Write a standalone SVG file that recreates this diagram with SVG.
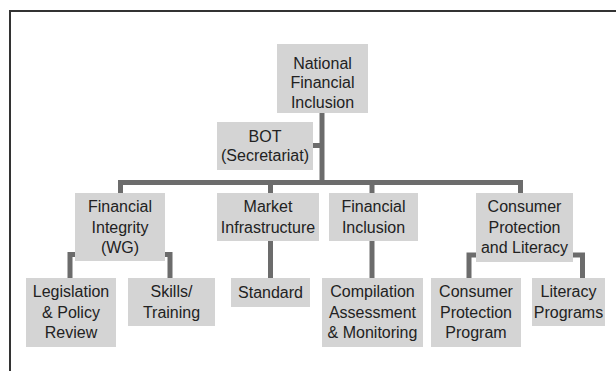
<svg xmlns="http://www.w3.org/2000/svg" width="616" height="371" viewBox="0 0 616 371">
  <style>
    .box { fill: #d4d4d4; }
    .lbl { font-family: "Liberation Sans", Arial, sans-serif; font-size: 16px; fill: #222; text-anchor: middle; }
    .wire { fill: none; stroke: #6c6c6c; stroke-width: 5; stroke-linejoin: miter; }
    .frame { fill: none; stroke: #333; stroke-width: 2; }
  </style>
  <rect width="616" height="371" fill="#fff"/>
  <!-- open frame: top and left edges only -->
  <path class="frame" d="M10 371 V11 H616"/>

  <g id="connectors">
    <path class="wire" d="M322 113 V182.5"/>
    <path class="wire" d="M313 145.5 H322"/>
    <path class="wire" d="M120.5 193 V182.5 H520.5 V193"/>
    <path class="wire" d="M270.5 182.5 V193"/>
    <path class="wire" d="M372 182.5 V193"/>
    <path class="wire" d="M270.5 241 V278"/>
    <path class="wire" d="M372 241 V278"/>
    <path class="wire" d="M75 254.5 H70 V278"/>
    <path class="wire" d="M165 254.5 H170 V278"/>
    <path class="wire" d="M476 255 H469 V278"/>
    <path class="wire" d="M573 255 H582.5 V278"/>
  </g>

  <g id="national">
    <rect class="box" x="277" y="44" width="91" height="69"/>
    <text class="lbl" x="322.5" y="68.5">National</text>
    <text class="lbl" x="322.5" y="88">Financial</text>
    <text class="lbl" x="322.5" y="107.5">Inclusion</text>
  </g>

  <g id="bot">
    <rect class="box" x="217" y="122" width="96" height="48"/>
    <text class="lbl" x="265" y="141.5">BOT</text>
    <text class="lbl" x="265" y="161">(Secretariat)</text>
  </g>

  <g id="financial-integrity">
    <rect class="box" x="75" y="193" width="90" height="68"/>
    <text class="lbl" x="120" y="212">Financial</text>
    <text class="lbl" x="120" y="232.5">Integrity</text>
    <text class="lbl" x="120" y="253">(WG)</text>
  </g>

  <g id="market-infrastructure">
    <rect class="box" x="217" y="193" width="102" height="48"/>
    <text class="lbl" x="268" y="212">Market</text>
    <text class="lbl" x="268" y="232.5">Infrastructure</text>
  </g>

  <g id="financial-inclusion">
    <rect class="box" x="329" y="193" width="89" height="48"/>
    <text class="lbl" x="373.5" y="212">Financial</text>
    <text class="lbl" x="373.5" y="232.5">Inclusion</text>
  </g>

  <g id="consumer-protection">
    <rect class="box" x="476" y="193" width="97" height="69"/>
    <text class="lbl" x="524.5" y="212">Consumer</text>
    <text class="lbl" x="524.5" y="232.5">Protection</text>
    <text class="lbl" x="524.5" y="253">and Literacy</text>
  </g>

  <g id="legislation">
    <rect class="box" x="26" y="278" width="90" height="69"/>
    <text class="lbl" x="71" y="297">Legislation</text>
    <text class="lbl" x="71" y="317.5">&amp; Policy</text>
    <text class="lbl" x="71" y="338">Review</text>
  </g>

  <g id="skills">
    <rect class="box" x="128" y="278" width="87" height="48"/>
    <text class="lbl" x="171.5" y="297">Skills/</text>
    <text class="lbl" x="171.5" y="317.5">Training</text>
  </g>

  <g id="standard">
    <rect class="box" x="231" y="278" width="79" height="29"/>
    <text class="lbl" x="270.5" y="297.5">Standard</text>
  </g>

  <g id="compilation">
    <rect class="box" x="322" y="278" width="101" height="69"/>
    <text class="lbl" x="372.5" y="297">Compilation</text>
    <text class="lbl" x="372.5" y="317.5">Assessment</text>
    <text class="lbl" x="372.5" y="338">&amp; Monitoring</text>
  </g>

  <g id="consumer-program">
    <rect class="box" x="431" y="278" width="90" height="69"/>
    <text class="lbl" x="476" y="297">Consumer</text>
    <text class="lbl" x="476" y="317.5">Protection</text>
    <text class="lbl" x="476" y="338">Program</text>
  </g>

  <g id="literacy">
    <rect class="box" x="532" y="278" width="73" height="48"/>
    <text class="lbl" x="568.5" y="297">Literacy</text>
    <text class="lbl" x="568.5" y="317.5">Programs</text>
  </g>
</svg>
